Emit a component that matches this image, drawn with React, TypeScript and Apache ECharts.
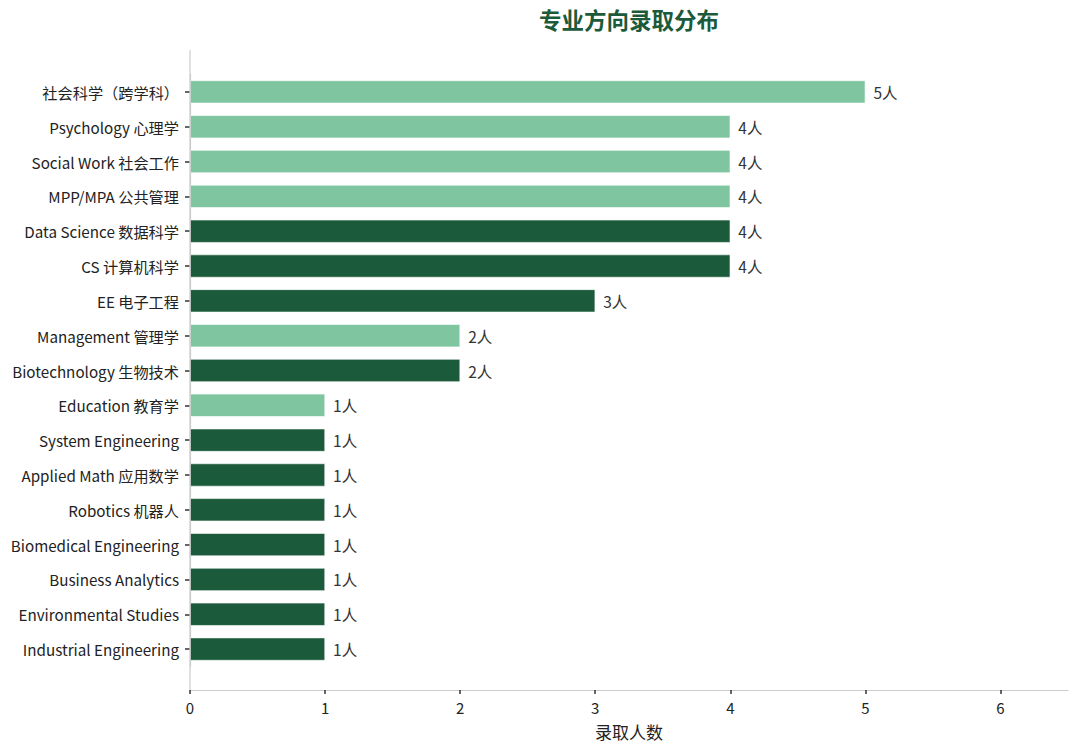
import React, { useEffect, useRef } from 'react';
import * as echarts from 'echarts';

const categories = [
  '社会科学（跨学科）',
  'Psychology 心理学',
  'Social Work 社会工作',
  'MPP/MPA 公共管理',
  'Data Science 数据科学',
  'CS 计算机科学',
  'EE 电子工程',
  'Management 管理学',
  'Biotechnology 生物技术',
  'Education 教育学',
  'System Engineering',
  'Applied Math 应用数学',
  'Robotics 机器人',
  'Biomedical Engineering',
  'Business Analytics',
  'Environmental Studies',
  'Industrial Engineering',
];
const counts = [5, 4, 4, 4, 4, 4, 3, 2, 2, 1, 1, 1, 1, 1, 1, 1, 1];
// true = social-science style group (light green)
const lightGroup = [true, true, true, true, false, false, false, true, false, true, false, false, false, false, false, false, false];
const xTicks = [0, 1, 2, 3, 4, 5, 6];

const LIGHT = '#7fc6a0';
const DARK = '#1b5a3a';
const FONT = '"Noto Sans CJK SC", "Noto Sans", sans-serif';

const App: React.FC = () => {
  const chartRef = useRef<HTMLDivElement>(null);

  useEffect(() => {
    document.body.style.margin = '0';
    if (!chartRef.current) return;
    const chart = echarts.init(chartRef.current, null, { renderer: 'svg' });
    chart.setOption({
      animation: false,
      textStyle: { fontFamily: FONT },
      title: {
        text: '专业方向录取分布',
        left: 534,
        top: 3,
        textStyle: { fontFamily: FONT, fontSize: 22.5, fontWeight: 'bold', color: '#1b5a3a' },
      },
      grid: { left: 190, right: 12, top: 74.5, bottom: 86.5 },
      xAxis: {
        type: 'value',
        min: 0,
        max: 6.5,
        interval: 1,
        offset: 23.5,
        name: '录取人数',
        nameLocation: 'middle',
        nameGap: 33,
        nameTextStyle: { fontFamily: FONT, fontSize: 17, color: '#222' },
        axisLine: { show: true, lineStyle: { color: '#cccccc', width: 1.2 } },
        axisTick: { show: true, length: 4, lineStyle: { color: '#333', width: 1.5 }, customValues: xTicks },
        axisLabel: { fontSize: 15, color: '#222', margin: 10, customValues: xTicks },
        splitLine: { show: false },
      },
      yAxis: {
        type: 'category',
        data: categories,
        inverse: true,
        axisLine: { show: true, lineStyle: { color: '#cccccc', width: 1.2 } },
        axisTick: { show: true, alignWithLabel: true, interval: 0, length: 5, lineStyle: { color: '#333', width: 1.5 } },
        axisLabel: { fontSize: 15.2, color: '#222', margin: 11 },
      },
      graphic: [
        {
          type: 'line',
          shape: { x1: 190, y1: 50, x2: 190, y2: 690 },
          style: { stroke: '#cccccc', lineWidth: 1.2 },
          z: 10,
        },
      ],
      series: [
        {
          type: 'bar',
          barWidth: 23,
          data: counts.map((v, i) => ({
            value: v,
            itemStyle: { color: lightGroup[i] ? LIGHT : DARK, borderColor: '#ffffff', borderWidth: 0.6 },
          })),
          label: {
            show: true,
            position: 'right',
            distance: 8,
            formatter: '{c}人',
            fontSize: 15.5,
            color: '#333',
            fontFamily: FONT,
          },
        },
      ],
    });
    return () => {
      chart.dispose();
    };
  }, []);

  return <div ref={chartRef} style={{ width: 1080, height: 753 }} />;
};

export default App;
